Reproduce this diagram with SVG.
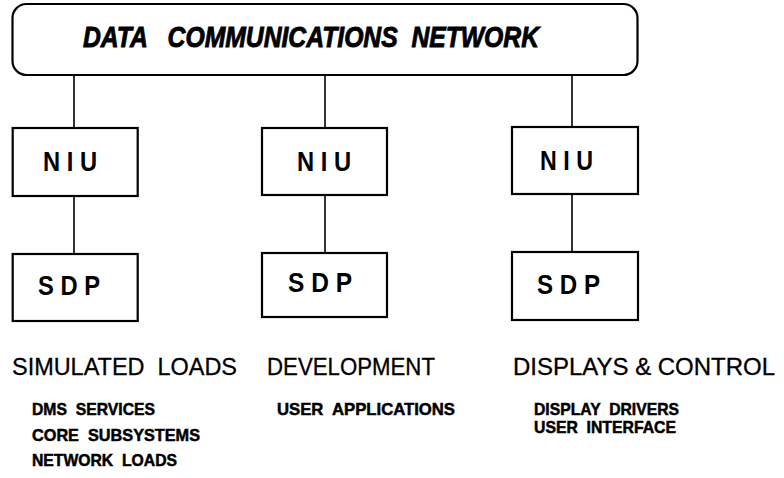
<svg xmlns="http://www.w3.org/2000/svg" width="784" height="478" viewBox="0 0 784 478">
<style>
.box{fill:#fff;stroke:#000;stroke-width:2.2}
.ln{stroke:#000;stroke-width:1.6;fill:none}
.title{font-family:"Liberation Sans",Arial,sans-serif;font-weight:bold;font-style:italic;font-size:29px;fill:#000;stroke:#000;stroke-width:0.9;white-space:pre}
.lbl{font-family:"Liberation Sans",Arial,sans-serif;font-weight:bold;font-size:28px;fill:#000}
.head{font-family:"Liberation Sans",Arial,sans-serif;font-size:24px;fill:#000;stroke:#000;stroke-width:0.3;white-space:pre}
.sub{font-family:"Liberation Sans",Arial,sans-serif;font-weight:bold;font-size:16.5px;fill:#000;stroke:#000;stroke-width:0.5;white-space:pre}
</style>
<g id="connectors">
<line class="ln" x1="74" y1="75" x2="74" y2="128"/>
<line class="ln" x1="325" y1="75" x2="325" y2="128"/>
<line class="ln" x1="572" y1="75" x2="572" y2="127"/>
<line class="ln" x1="74" y1="196" x2="74" y2="254"/>
<line class="ln" x1="325" y1="195" x2="325" y2="253"/>
<line class="ln" x1="572" y1="194" x2="572" y2="252"/>
</g>
<g id="network">
<rect class="box" x="12.5" y="4" width="625" height="71" rx="14"/>
<text class="title" xml:space="preserve" x="83" y="47" textLength="456" lengthAdjust="spacingAndGlyphs">DATA   COMMUNICATIONS  NETWORK</text>
</g>
<g id="niu1">
<rect class="box" x="12.7" y="128" width="125" height="68"/>
<text class="lbl" x="43" y="171" textLength="54" lengthAdjust="spacingAndGlyphs">N I U</text>
</g>
<g id="niu2">
<rect class="box" x="262" y="128" width="125" height="67"/>
<text class="lbl" x="297" y="171" textLength="54" lengthAdjust="spacingAndGlyphs">N I U</text>
</g>
<g id="niu3">
<rect class="box" x="512" y="127" width="126" height="67"/>
<text class="lbl" x="540" y="170" textLength="53" lengthAdjust="spacingAndGlyphs">N I U</text>
</g>
<g id="sdp1">
<rect class="box" x="12.7" y="254" width="125" height="67"/>
<text class="lbl" x="38" y="295" textLength="62" lengthAdjust="spacingAndGlyphs">S D P</text>
</g>
<g id="sdp2">
<rect class="box" x="262" y="253" width="125" height="64"/>
<text class="lbl" x="288" y="292" textLength="64" lengthAdjust="spacingAndGlyphs">S D P</text>
</g>
<g id="sdp3">
<rect class="box" x="512" y="252" width="126" height="68"/>
<text class="lbl" x="537" y="294" textLength="63" lengthAdjust="spacingAndGlyphs">S D P</text>
</g>
<g id="col1">
<text class="head" xml:space="preserve" x="12" y="375" textLength="225" lengthAdjust="spacingAndGlyphs">SIMULATED  LOADS</text>
<text class="sub" xml:space="preserve" x="32" y="415" textLength="123" lengthAdjust="spacingAndGlyphs">DMS  SERVICES</text>
<text class="sub" xml:space="preserve" x="32" y="441" textLength="168" lengthAdjust="spacingAndGlyphs">CORE  SUBSYSTEMS</text>
<text class="sub" xml:space="preserve" x="32" y="466" textLength="145" lengthAdjust="spacingAndGlyphs">NETWORK  LOADS</text>
</g>
<g id="col2">
<text class="head" x="267" y="375" textLength="168" lengthAdjust="spacingAndGlyphs">DEVELOPMENT</text>
<text class="sub" xml:space="preserve" x="277" y="415" textLength="178" lengthAdjust="spacingAndGlyphs">USER  APPLICATIONS</text>
</g>
<g id="col3">
<text class="head" x="513" y="375" textLength="262" lengthAdjust="spacingAndGlyphs">DISPLAYS &amp; CONTROL</text>
<text class="sub" xml:space="preserve" x="534" y="415" textLength="145" lengthAdjust="spacingAndGlyphs">DISPLAY  DRIVERS</text>
<text class="sub" xml:space="preserve" x="534" y="433" textLength="142" lengthAdjust="spacingAndGlyphs">USER  INTERFACE</text>
</g>
</svg>
